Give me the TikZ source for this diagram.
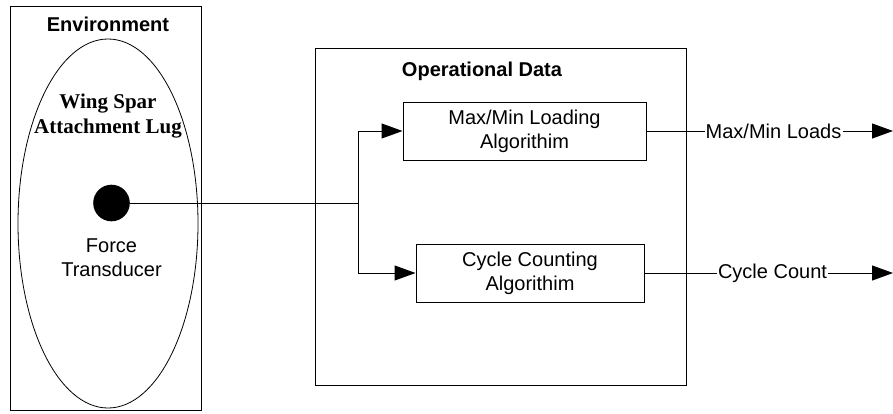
\documentclass[tikz,border=0pt]{standalone}
\usepackage{fontspec}
\setmainfont{Liberation Sans}
\newfontfamily\lugfont{Liberation Serif}
\usetikzlibrary{arrows.meta}

\begin{document}
\begin{tikzpicture}[x=1pt,y=-1pt,
    every node/.style={font=\fontsize{20}{24}\selectfont},
    algbox/.style={draw, line width=1pt, minimum width=243pt, minimum height=58pt, align=center, inner sep=0pt},
    flow/.style={line width=1pt, -{Triangle[length=21pt,width=15pt]}},
    plain/.style={line width=1pt}]
            \useasboundingbox (0,0) rectangle (893,413);
            % environment
            \draw [plain] (10,6) rectangle (201,410);
            \node [font=\fontsize{20}{24}\selectfont\bfseries] (envtitle) at (108,24) {Environment};
            \draw [line width=0.8pt] (108,223.5) ellipse [x radius=90pt, y radius=184.5pt];
            \node [align=center, font=\fontsize{21}{25}\selectfont\lugfont\bfseries] (lug) at (108,116) {Wing Spar\\Attachment Lug};
            \node [circle, fill, inner sep=0pt, minimum size=36.6pt] (dot) at (111.5,203) {};
            \node [align=center] (force) at (111.5,258) {Force\\Transducer};
            % operational data
            \draw [plain] (315,48) rectangle (686,385);
            \node [font=\fontsize{20}{24}\selectfont\bfseries] (optitle) at (482,71) {Operational Data};
            \node [algbox] (maxalg) at (524.5,131) {Max/Min Loading\\Algorithim};
            \node [algbox, minimum width=228pt] (cycalg) at (530,273) {Cycle Counting\\Algorithim};
            \coordinate (junc) at (358,203);
            \draw [plain] (dot) -- (junc);
            \draw [flow] (junc) |- (maxalg.west);
            \draw [flow] (junc) |- (cycalg.west);
            % outputs
            \node [inner sep=1pt] (maxout) at (773.5,131) {Max/Min Loads};
            \node [inner sep=1pt] (cycout) at (772.5,273) {Cycle Count};
            \coordinate (maxend) at (893,131);
            \coordinate (cycend) at (893,273);
            \draw [plain] (maxalg) -- (maxout);
            \draw [flow] (maxout) -- (maxend);
            \draw [plain] (cycalg) -- (cycout);
            \draw [flow] (cycout) -- (cycend);
\end{tikzpicture}
\end{document}
